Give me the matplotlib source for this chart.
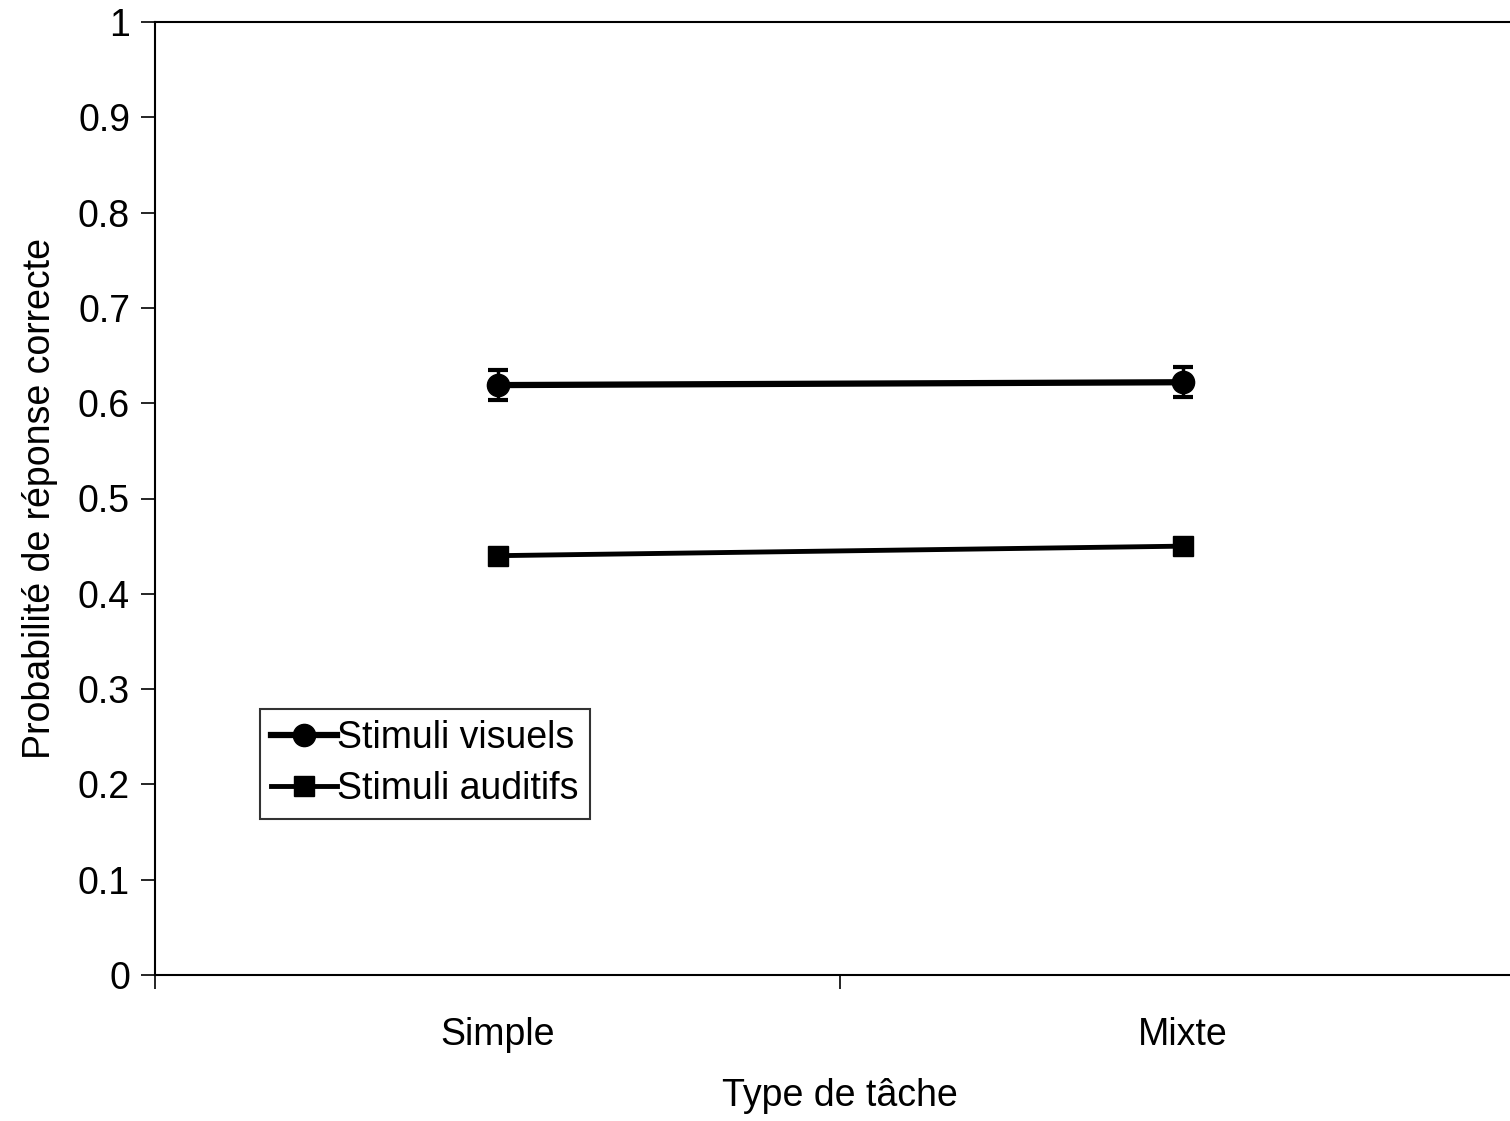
import matplotlib
matplotlib.use("Agg")
import matplotlib.pyplot as plt
from matplotlib.lines import Line2D
import numpy as np

categories = ["Simple", "Mixte"]
visuels = [0.619, 0.622]
visuels_err = [0.016, 0.016]
auditifs = [0.440, 0.450]
auditifs_err = [0.006, 0.006]
yticks = [0, 0.1, 0.2, 0.3, 0.4, 0.5, 0.6, 0.7, 0.8, 0.9, 1]
ytick_labels = ["0", "0.1", "0.2", "0.3", "0.4", "0.5", "0.6", "0.7", "0.8", "0.9", "1"]

plt.rcParams['font.family'] = ['Liberation Sans', 'DejaVu Sans']
FS = 27

W, H = 1510, 1121
fig = plt.figure(figsize=(W / 100, H / 100), dpi=100)
left, right, top, bottom = 155, 1525, 22, 975
ax = fig.add_axes([left / W, 1 - bottom / H, (right - left) / W, (bottom - top) / H])

x = np.arange(len(categories)) + 0.5
ax.errorbar(x, visuels, yerr=visuels_err, color='black', lw=4.5, marker='o', ms=16,
            capsize=7, capthick=3, elinewidth=2.5, clip_on=False)
ax.errorbar(x, auditifs, yerr=auditifs_err, color='black', lw=3.5, marker='s', ms=14,
            capsize=5, capthick=2, elinewidth=2, clip_on=False)

ax.set_xlim(0, 2)
ax.set_ylim(0, 1)
ax.set_yticks(yticks)
ax.set_yticklabels(ytick_labels)
ax.set_xticks([0, 1, 2])
ax.set_xticklabels([])
ax.set_xticks(x, minor=True)
ax.set_xticklabels(categories, minor=True)
ax.tick_params(axis='x', which='minor', length=0, pad=30, labelsize=FS)
ax.tick_params(axis='x', which='major', length=10, width=1.2, direction='out')
ax.tick_params(axis='y', length=10, width=1.2, direction='out', labelsize=FS, pad=8)
for s in ax.spines.values():
    s.set_linewidth(1.5)
ax.spines['right'].set_visible(False)

ax.set_xlabel("Type de tâche", fontsize=FS)
ax.xaxis.set_label_coords((840 - left) / (right - left), (975 - 1078) / (bottom - top))
ax.set_ylabel("Probabilité de réponse correcte", fontsize=FS, labelpad=14)

handles = [Line2D([], [], color='black', lw=4.5, marker='o', ms=16),
           Line2D([], [], color='black', lw=3.5, marker='s', ms=14)]
leg = ax.legend(handles, ['Stimuli visuels', 'Stimuli auditifs'], loc='upper left',
                bbox_to_anchor=((260 - left) / (right - left), (bottom - 709) / (bottom - top)),
                frameon=True, fancybox=False, edgecolor='black', fontsize=FS,
                handlelength=1.75, handletextpad=0.0, borderpad=0.3, labelspacing=0.4,
                borderaxespad=0)
leg.get_frame().set_linewidth(1.5)

fig.savefig("out.png", dpi=100)
